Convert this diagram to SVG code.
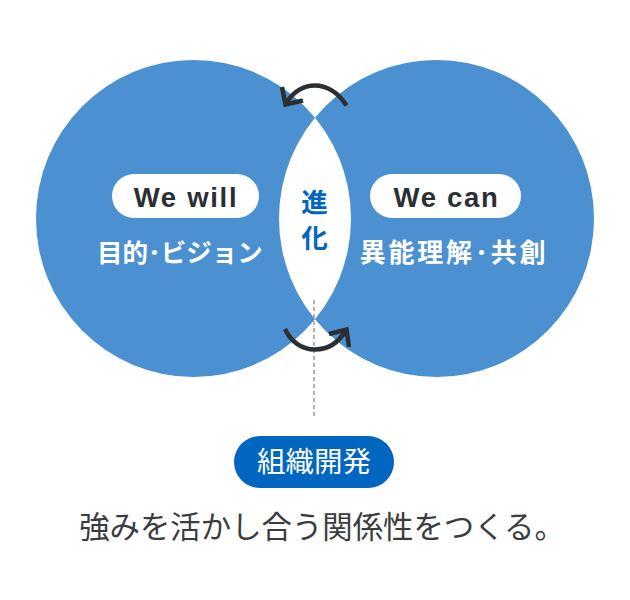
<svg xmlns="http://www.w3.org/2000/svg" width="630" height="600" viewBox="0 0 630 600">
<style>
.cjk{font-family:"Noto Sans CJK JP","Noto Sans",sans-serif}
.lat{font-family:"Liberation Sans",Arial,sans-serif;font-weight:700;font-size:27.500px;letter-spacing:1.700px;fill:#2b2f33}
.lab{font-weight:700;fill:#fff}
.arrow{fill:none;stroke:#2b2f33;stroke-width:4.500}
text{text-anchor:middle}
</style>
<rect width="630" height="600" fill="#fff"/>
<g id="circles">
<path fill="#4b90d0" fill-rule="evenodd" d="M36 218.500a157.500 158.500 0 1 0 315 0a157.500 158.500 0 1 0-315 0zM279 218.500a157.500 158.500 0 1 0 315 0a157.500 158.500 0 1 0-315 0z"/>
</g>
<g id="connectors">
<path d="M314 300V417" fill="none" stroke="#999" stroke-width="1.500" stroke-dasharray="4 3"/>
<path class="arrow" d="M346.500 105.500C338 92 326 85.500 315 85.500C303 85.500 293 92 285.500 104"/>
<path class="arrow" d="M282 87L285.500 104.500L303 100.500"/>
<path class="arrow" d="M285 329C291 342 302 349.500 315 349.500C328 349.500 339 342 346 330"/>
<path class="arrow" d="M329 334L346.500 329.500L349 347"/>
</g>
<g id="we-will">
<rect x="112" y="174" width="147" height="44" rx="22" fill="#fff"/>
<text class="lat" x="186" y="207">We will</text>
<text class="cjk lab" x="180" y="262" font-size="25.500">目的･ビジョン</text>
</g>
<g id="we-can">
<rect x="370" y="174" width="151" height="44" rx="22" fill="#fff"/>
<text class="lat" x="446.500" y="207">We can</text>
<text class="cjk lab" x="454" y="262" font-size="26" letter-spacing="2.800">異能理解･共創</text>
</g>
<g id="shinka">
<text class="cjk" x="314.500" y="224.500" writing-mode="vertical-rl" font-size="26.500" letter-spacing="9.500" font-weight="700" fill="#0066c0">進化</text>
</g>
<g id="soshiki">
<rect x="234" y="436" width="160" height="52" rx="26" fill="#0066c0"/>
<text class="cjk" x="314" y="472" font-size="28.500" fill="#fff">組織開発</text>
</g>
<text class="cjk" x="322" y="538" font-size="30.400" fill="#3a3d40">強みを活かし合う関係性をつくる。</text>
</svg>
